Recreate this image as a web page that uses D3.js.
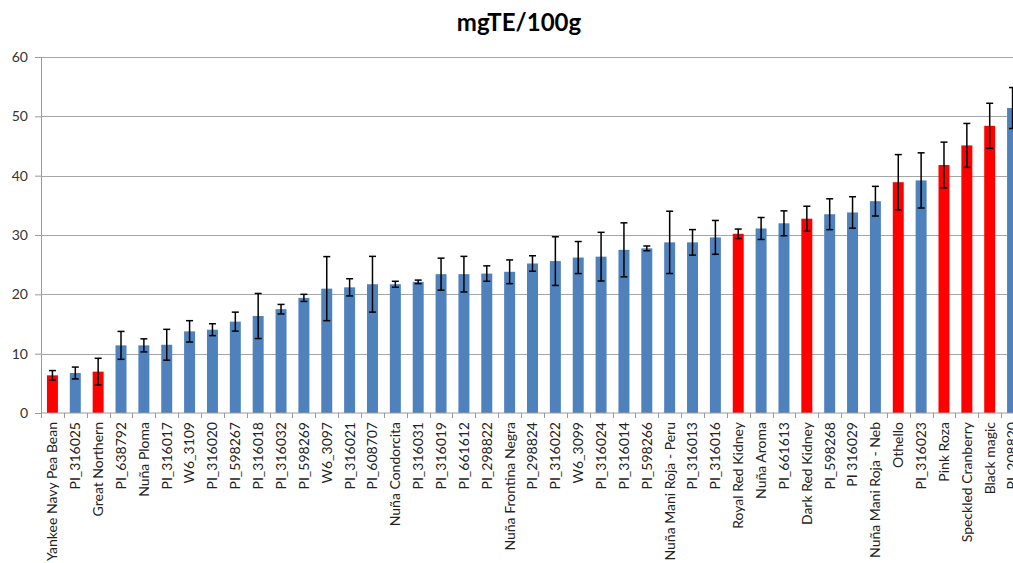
<!DOCTYPE html>
<html>
<head>
<meta charset="utf-8">
<script src="https://cdn.jsdelivr.net/npm/d3@7"></script>
<style>
  html, body { margin: 0; padding: 0; background: #fff; overflow: hidden; }
  svg { display: block; }
</style>
</head>
<body>
<svg id="chart" width="1013" height="563"></svg>
<script>
const categories = [
  "Yankee Navy Pea Bean", "PI_316025", "Great Northern", "PI_638792", "Nuña Ploma",
  "PI_316017", "W6_3109", "PI_316020", "PI_598267", "PI_316018",
  "PI_316032", "PI_598269", "W6_3097", "PI_316021", "PI_608707",
  "Nuña Condorcita", "PI_316031", "PI_316019", "PI_661612", "PI_298822",
  "Nuña Frontina Negra", "PI_298824", "PI_316022", "W6_3099", "PI_316024",
  "PI_316014", "PI_598266", "Nuña Mani Roja - Peru", "PI_316013", "PI_316016",
  "Royal Red Kidney", "Nuña Aroma", "PI_661613", "Dark Red Kidney", "PI_598268",
  "PI 316029", "Nuña Mani Roja - Neb", "Othello", "PI_316023", "Pink Roza",
  "Speckled Cranberry", "Black magic", "PI_208820"
];
const values = [
  6.35, 6.74, 6.97, 11.4, 11.4,
  11.5, 13.76, 14.04, 15.4, 16.35,
  17.5, 19.4, 20.96, 21.18, 21.7,
  21.7, 22.1, 23.4, 23.4, 23.5,
  23.8, 25.2, 25.6, 26.2, 26.35,
  27.5, 27.75, 28.76, 28.76, 29.6,
  30.2, 31.1, 31.97, 32.75, 33.5,
  33.8, 35.7, 38.9, 39.2, 41.8,
  45.1, 48.4, 51.4
];
const errors = [
  0.8, 1.0, 2.25, 2.35, 1.1,
  2.6, 1.8, 1.0, 1.6, 3.8,
  0.8, 0.6, 5.4, 1.45, 4.7,
  0.5, 0.3, 2.7, 3.0, 1.3,
  2.0, 1.3, 4.1, 2.7, 4.1,
  4.55, 0.4, 5.25, 2.15, 2.85,
  0.8, 1.85, 2.1, 2.1, 2.6,
  2.65, 2.5, 4.65, 4.65, 3.85,
  3.7, 3.8, 3.45
];
const commercial = [
  "Yankee Navy Pea Bean", "Great Northern", "Royal Red Kidney", "Dark Red Kidney",
  "Othello", "Pink Roza", "Speckled Cranberry", "Black magic"
];
const yTicks = [0, 10, 20, 30, 40, 50, 60];
const title = "mgTE/100g";

const data = categories.map((c, i) => ({ name: c, value: values[i], err: errors[i] }));

const svg = d3.select("#chart");
const font = "Lato, Carlito, 'Liberation Sans', sans-serif";

const x = d3.scaleBand().domain(categories).range([41, 1024]).paddingInner(0.52).paddingOuter(0.26);
const y = d3.scaleLinear().domain([0, 60]).range([413, 57]);

// title
svg.append("text")
  .attr("x", 519).attr("y", 31)
  .attr("text-anchor", "middle")
  .attr("font-family", font).attr("font-weight", "bold").attr("font-size", 24)
  .attr("fill", "#000")
  .text(title);

// y axis
const yAxis = d3.axisLeft(y).tickValues(yTicks).tickSize(6).tickPadding(7);
const gy = svg.append("g").attr("transform", "translate(41,0)").call(yAxis);
gy.select(".domain").attr("stroke", "#9a9a9a");
gy.selectAll(".tick line").attr("stroke", "#9a9a9a");
gy.selectAll(".tick text").attr("font-family", font).attr("font-size", 14).attr("fill", "#333");

// gridlines
svg.append("g").selectAll("line").data(yTicks.filter(d => d > 0)).join("line")
  .attr("x1", 41).attr("x2", 1024)
  .attr("y1", d => Math.round(y(d)) + 0.5).attr("y2", d => Math.round(y(d)) + 0.5)
  .attr("stroke", "#a6a6a6").attr("stroke-width", 1);

// bars
svg.append("g").selectAll("rect").data(data).join("rect")
  .attr("x", d => x(d.name))
  .attr("width", x.bandwidth())
  .attr("y", d => y(d.value))
  .attr("height", d => y(0) - y(d.value))
  .attr("fill", d => commercial.includes(d.name) ? "#ff0000" : "#4f81bd");

// x axis
const xAxis = d3.axisBottom(x).tickSize(0).tickFormat(d => d);
const gx = svg.append("g").attr("transform", `translate(0,${y(0)})`).call(xAxis);
gx.select(".domain").attr("stroke", "#9a9a9a").attr("d", `M41,0H1024`);
gx.selectAll(".tick text")
  .attr("font-family", font).attr("font-size", 14).attr("fill", "#222")
  .attr("text-anchor", "end")
  .attr("transform", "rotate(-90)")
  .attr("x", -9).attr("y", 0).attr("dy", "0.35em");

// category boundary ticks
const bounds = d3.range(categories.length + 1).map(i => 41 + i * (1024 - 41) / categories.length);
svg.append("g").selectAll("line").data(bounds).join("line")
  .attr("x1", d => Math.round(d) + 0.5).attr("x2", d => Math.round(d) + 0.5)
  .attr("y1", y(0)).attr("y2", y(0) + 5)
  .attr("stroke", "#9a9a9a");

// error bars
const eb = svg.append("g").attr("stroke", "#000").attr("stroke-width", 1.5);
data.forEach(d => {
  const cx = x(d.name) + x.bandwidth() / 2;
  const y1 = y(d.value + d.err), y2 = y(d.value - d.err);
  eb.append("line").attr("x1", cx).attr("x2", cx).attr("y1", y1).attr("y2", y2);
  eb.append("line").attr("x1", cx - 3.5).attr("x2", cx + 3.5).attr("y1", y1).attr("y2", y1);
  eb.append("line").attr("x1", cx - 3.5).attr("x2", cx + 3.5).attr("y1", y2).attr("y2", y2);
});
</script>
</body>
</html>
